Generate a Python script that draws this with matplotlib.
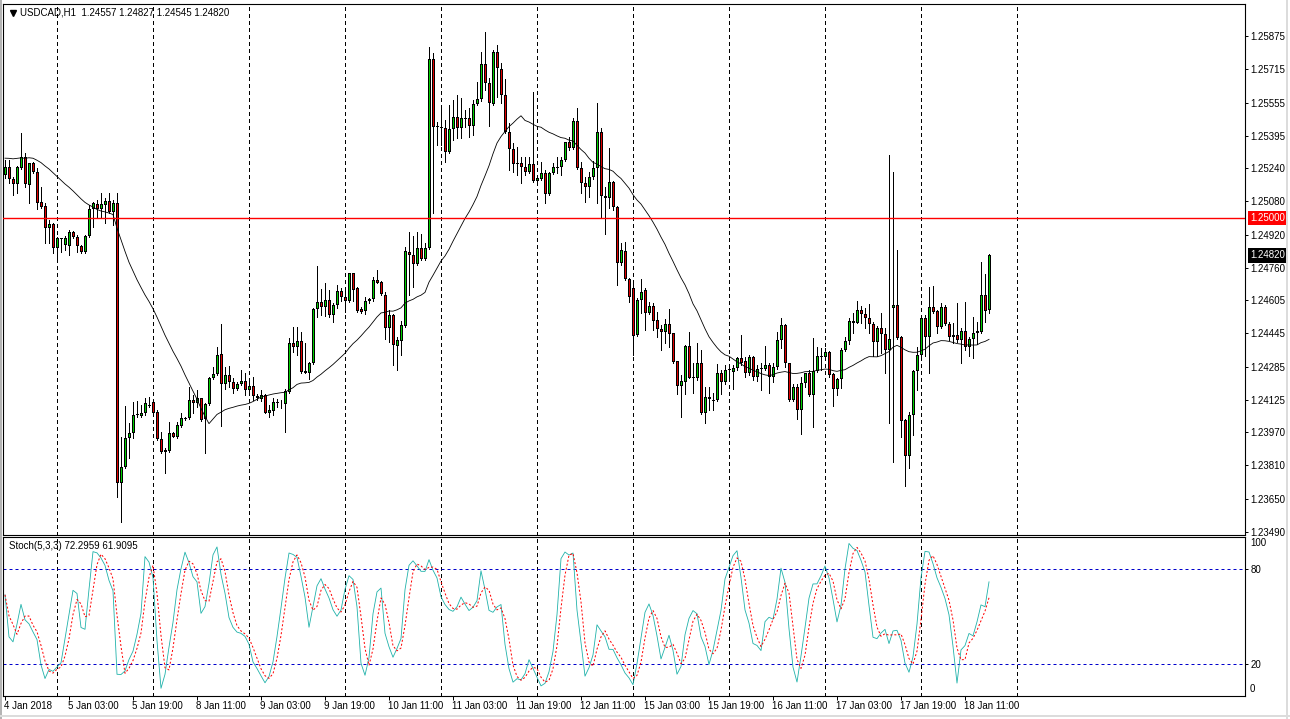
import numpy as np
import pandas as pd
import matplotlib
matplotlib.use("Agg")
import matplotlib.pyplot as plt
import matplotlib.transforms as mtransforms

# USDCAD H1 candles, 4 Jan 11:00 .. 18 Jan 17:00
opens = [
    1.25207, 1.25247, 1.25186, 1.25162, 1.25239, 1.25292, 1.25159, 1.25263, 1.25223, 1.25076,
    1.25058, 1.24950, 1.24970, 1.24857, 1.24902, 1.24870, 1.24865, 1.24931, 1.24910, 1.24867,
    1.24835, 1.24915, 1.25042, 1.25067, 1.25042, 1.25063, 1.25082, 1.25030, 1.25071, 1.23723,
    1.23803, 1.23940, 1.23964, 1.24052, 1.24049, 1.24060, 1.24100, 1.24116, 1.24065, 1.23935,
    1.23884, 1.23880, 1.23964, 1.23948, 1.24001, 1.24036, 1.24036, 1.24124, 1.24108, 1.24132,
    1.24031, 1.24105, 1.24229, 1.24249, 1.24344, 1.24200, 1.24245, 1.24212, 1.24176, 1.24201,
    1.24216, 1.24172, 1.24192, 1.24143, 1.24128, 1.24148, 1.24063, 1.24071, 1.24116, 1.24108,
    1.24105, 1.24164, 1.24397, 1.24381, 1.24408, 1.24265, 1.24256, 1.24301, 1.24561, 1.24597,
    1.24570, 1.24605, 1.24533, 1.24581, 1.24649, 1.24618, 1.24602, 1.24734, 1.24662, 1.24562,
    1.24554, 1.24601, 1.24610, 1.24702, 1.24693, 1.24629, 1.24469, 1.24533, 1.24386, 1.24408,
    1.24480, 1.24838, 1.24822, 1.24777, 1.24854, 1.24801, 1.24854, 1.25764, 1.25443, 1.25439,
    1.25432, 1.25319, 1.25427, 1.25485, 1.25432, 1.25480, 1.25480, 1.25443, 1.25547, 1.25571,
    1.25741, 1.25648, 1.25549, 1.25799, 1.25716, 1.25592, 1.25415, 1.25331, 1.25263, 1.25263,
    1.25244, 1.25223, 1.25258, 1.25179, 1.25186, 1.25215, 1.25115, 1.25215, 1.25243, 1.25247,
    1.25279, 1.25364, 1.25335, 1.25467, 1.25239, 1.25170, 1.25151, 1.25196, 1.25239, 1.25412,
    1.25106, 1.25095, 1.25175, 1.25051, 1.24782, 1.24843, 1.24705, 1.24662, 1.24437, 1.24605,
    1.24654, 1.24541, 1.24577, 1.24509, 1.24464, 1.24453, 1.24488, 1.24445, 1.24312, 1.24193,
    1.24212, 1.24384, 1.24237, 1.24229, 1.24301, 1.24063, 1.24137, 1.24120, 1.24126, 1.24253,
    1.24212, 1.24269, 1.24260, 1.24277, 1.24325, 1.24312, 1.24256, 1.24330, 1.24233, 1.24272,
    1.24272, 1.24293, 1.24233, 1.24282, 1.24413, 1.24485, 1.24301, 1.24124, 1.24185, 1.24076,
    1.24207, 1.24253, 1.24148, 1.24265, 1.24336, 1.24333, 1.24355, 1.24248, 1.24176, 1.24224,
    1.24365, 1.24408, 1.24504, 1.24496, 1.24557, 1.24538, 1.24517, 1.24488, 1.24402, 1.24469,
    1.24440, 1.24365, 1.24565, 1.24581, 1.24426, 1.24028, 1.23855, 1.24052, 1.24265, 1.24341,
    1.24517, 1.24429, 1.24570, 1.24552, 1.24477, 1.24570, 1.24488, 1.24437, 1.24437, 1.24413,
    1.24458, 1.24381, 1.24416, 1.24448, 1.24453, 1.24629, 1.24557,
]
highs = [
    1.25279, 1.25279, 1.25197, 1.25250, 1.25408, 1.25311, 1.25263, 1.25271, 1.25239, 1.25151,
    1.25071, 1.24990, 1.24975, 1.24910, 1.24905, 1.24913, 1.24942, 1.24937, 1.24918, 1.24870,
    1.24918, 1.25063, 1.25078, 1.25087, 1.25119, 1.25095, 1.25122, 1.25087, 1.25122, 1.23948,
    1.24095, 1.24012, 1.24116, 1.24119, 1.24100, 1.24132, 1.24140, 1.24119, 1.24076, 1.23972,
    1.23892, 1.24020, 1.23970, 1.24020, 1.24060, 1.24042, 1.24188, 1.24148, 1.24172, 1.24134,
    1.24110, 1.24235, 1.24284, 1.24381, 1.24490, 1.24284, 1.24288, 1.24229, 1.24212, 1.24269,
    1.24256, 1.24212, 1.24237, 1.24153, 1.24172, 1.24153, 1.24100, 1.24132, 1.24128, 1.24124,
    1.24176, 1.24424, 1.24474, 1.24474, 1.24453, 1.24397, 1.24309, 1.24565, 1.24769, 1.24657,
    1.24686, 1.24654, 1.24590, 1.24676, 1.24662, 1.24654, 1.24737, 1.24737, 1.24669, 1.24573,
    1.24621, 1.24614, 1.24718, 1.24750, 1.24697, 1.24645, 1.24557, 1.24537, 1.24429, 1.24505,
    1.24862, 1.24934, 1.24913, 1.24934, 1.24922, 1.24878, 1.25824, 1.25793, 1.25463, 1.25536,
    1.25472, 1.25544, 1.25568, 1.25592, 1.25576, 1.25520, 1.25528, 1.25568, 1.25656, 1.25800,
    1.25896, 1.25672, 1.25808, 1.25832, 1.25744, 1.25667, 1.25456, 1.25359, 1.25343, 1.25295,
    1.25295, 1.25295, 1.25608, 1.25199, 1.25271, 1.25231, 1.25223, 1.25263, 1.25295, 1.25295,
    1.25367, 1.25391, 1.25480, 1.25528, 1.25271, 1.25199, 1.25223, 1.25276, 1.25552, 1.25432,
    1.25151, 1.25335, 1.25179, 1.25058, 1.24878, 1.24886, 1.24710, 1.24702, 1.24614, 1.24705,
    1.24662, 1.24597, 1.24590, 1.24549, 1.24485, 1.24513, 1.24561, 1.24448, 1.24313, 1.24245,
    1.24389, 1.24453, 1.24301, 1.24397, 1.24365, 1.24188, 1.24188, 1.24156, 1.24297, 1.24269,
    1.24293, 1.24282, 1.24293, 1.24333, 1.24437, 1.24333, 1.24341, 1.24336, 1.24293, 1.24301,
    1.24384, 1.24304, 1.24301, 1.24453, 1.24517, 1.24488, 1.24304, 1.24201, 1.24201, 1.24237,
    1.24256, 1.24269, 1.24421, 1.24381, 1.24373, 1.24373, 1.24361, 1.24253, 1.24229, 1.24373,
    1.24429, 1.24517, 1.24544, 1.24601, 1.24577, 1.24565, 1.24586, 1.24501, 1.24480, 1.24544,
    1.24469, 1.25303, 1.25223, 1.24846, 1.24432, 1.24031, 1.24068, 1.24269, 1.24381, 1.24528,
    1.24533, 1.24669, 1.24673, 1.24557, 1.24590, 1.24581, 1.24501, 1.24496, 1.24590, 1.24469,
    1.24597, 1.24426, 1.24525, 1.24501, 1.24790, 1.24729, 1.24827,
]
lows = [
    1.25191, 1.25168, 1.25111, 1.25122, 1.25235, 1.25151, 1.25074, 1.25215, 1.25042, 1.25047,
    1.24878, 1.24878, 1.24833, 1.24806, 1.24838, 1.24846, 1.24822, 1.24904, 1.24838, 1.24832,
    1.24832, 1.24910, 1.24955, 1.25006, 1.24999, 1.24975, 1.25023, 1.24966, 1.23659, 1.23539,
    1.23796, 1.23844, 1.23940, 1.24044, 1.24044, 1.24052, 1.24092, 1.24057, 1.23930, 1.23868,
    1.23771, 1.23875, 1.23946, 1.23940, 1.23997, 1.24028, 1.24033, 1.24060, 1.24092, 1.24023,
    1.23868, 1.24100, 1.24224, 1.24245, 1.23999, 1.24176, 1.24188, 1.24156, 1.24172, 1.24196,
    1.24148, 1.24164, 1.24124, 1.24124, 1.24121, 1.24060, 1.24044, 1.24052, 1.24092, 1.24086,
    1.23972, 1.24160, 1.24357, 1.24341, 1.24256, 1.24254, 1.24224, 1.24297, 1.24522, 1.24533,
    1.24528, 1.24522, 1.24501, 1.24565, 1.24602, 1.24549, 1.24597, 1.24602, 1.24549, 1.24541,
    1.24538, 1.24592, 1.24602, 1.24686, 1.24629, 1.24416, 1.24405, 1.24293, 1.24269, 1.24341,
    1.24477, 1.24629, 1.24669, 1.24774, 1.24798, 1.24798, 1.24850, 1.25023, 1.25351, 1.25351,
    1.25271, 1.25315, 1.25375, 1.25384, 1.25384, 1.25439, 1.25391, 1.25399, 1.25544, 1.25564,
    1.25616, 1.25443, 1.25544, 1.25584, 1.25552, 1.25410, 1.25231, 1.25223, 1.25207, 1.25167,
    1.25207, 1.25215, 1.25175, 1.25167, 1.25183, 1.25074, 1.25111, 1.25212, 1.25215, 1.25207,
    1.25276, 1.25327, 1.25331, 1.25236, 1.25122, 1.25078, 1.25100, 1.25186, 1.25074, 1.24999,
    1.24923, 1.25047, 1.25038, 1.24678, 1.24774, 1.24702, 1.24597, 1.24341, 1.24432, 1.24544,
    1.24461, 1.24538, 1.24461, 1.24429, 1.24365, 1.24397, 1.24381, 1.24304, 1.24153, 1.24041,
    1.24153, 1.24229, 1.24156, 1.24220, 1.24057, 1.24015, 1.24076, 1.24076, 1.24118, 1.24153,
    1.24201, 1.24220, 1.24176, 1.24269, 1.24293, 1.24237, 1.24245, 1.24220, 1.24217, 1.24172,
    1.24269, 1.24159, 1.24212, 1.24272, 1.24373, 1.24284, 1.24121, 1.24121, 1.24031, 1.23961,
    1.24188, 1.24143, 1.23993, 1.24260, 1.24269, 1.24317, 1.24233, 1.24095, 1.24148, 1.24181,
    1.24360, 1.24394, 1.24448, 1.24493, 1.24493, 1.24469, 1.24445, 1.24336, 1.24336, 1.24349,
    1.24253, 1.24015, 1.23827, 1.24416, 1.23948, 1.23710, 1.23796, 1.23956, 1.24172, 1.24317,
    1.24336, 1.24256, 1.24544, 1.24448, 1.24469, 1.24485, 1.24413, 1.24400, 1.24405, 1.24304,
    1.24365, 1.24336, 1.24325, 1.24394, 1.24448, 1.24501, 1.24545,
]
closes = [
    1.25247, 1.25186, 1.25162, 1.25244, 1.25292, 1.25162, 1.25263, 1.25223, 1.25071, 1.25054,
    1.24950, 1.24970, 1.24854, 1.24902, 1.24901, 1.24902, 1.24931, 1.24910, 1.24867, 1.24835,
    1.24915, 1.25042, 1.25071, 1.25042, 1.25067, 1.25082, 1.25030, 1.25071, 1.23723, 1.23803,
    1.23940, 1.23964, 1.24052, 1.24055, 1.24060, 1.24108, 1.24095, 1.24060, 1.23935, 1.23875,
    1.23875, 1.23964, 1.23948, 1.24004, 1.24036, 1.24031, 1.24124, 1.24111, 1.24135, 1.24028,
    1.24105, 1.24229, 1.24249, 1.24341, 1.24200, 1.24245, 1.24212, 1.24176, 1.24201, 1.24216,
    1.24172, 1.24192, 1.24143, 1.24132, 1.24148, 1.24063, 1.24076, 1.24116, 1.24108, 1.24110,
    1.24169, 1.24397, 1.24381, 1.24408, 1.24260, 1.24256, 1.24301, 1.24561, 1.24597, 1.24570,
    1.24605, 1.24533, 1.24581, 1.24649, 1.24618, 1.24602, 1.24734, 1.24654, 1.24554, 1.24549,
    1.24601, 1.24610, 1.24702, 1.24689, 1.24633, 1.24469, 1.24533, 1.24389, 1.24413, 1.24485,
    1.24843, 1.24822, 1.24777, 1.24854, 1.24801, 1.24854, 1.25764, 1.25439, 1.25436, 1.25432,
    1.25319, 1.25427, 1.25485, 1.25432, 1.25480, 1.25476, 1.25443, 1.25547, 1.25571, 1.25741,
    1.25648, 1.25552, 1.25799, 1.25720, 1.25592, 1.25415, 1.25331, 1.25260, 1.25260, 1.25244,
    1.25223, 1.25258, 1.25179, 1.25191, 1.25215, 1.25115, 1.25215, 1.25247, 1.25248, 1.25279,
    1.25364, 1.25335, 1.25467, 1.25239, 1.25167, 1.25148, 1.25196, 1.25239, 1.25412, 1.25106,
    1.25096, 1.25175, 1.25051, 1.24782, 1.24846, 1.24705, 1.24618, 1.24432, 1.24605, 1.24645,
    1.24541, 1.24577, 1.24506, 1.24464, 1.24453, 1.24488, 1.24442, 1.24309, 1.24193, 1.24216,
    1.24384, 1.24232, 1.24229, 1.24301, 1.24063, 1.24137, 1.24128, 1.24126, 1.24253, 1.24212,
    1.24269, 1.24272, 1.24277, 1.24328, 1.24304, 1.24253, 1.24330, 1.24233, 1.24272, 1.24277,
    1.24293, 1.24233, 1.24284, 1.24413, 1.24485, 1.24301, 1.24124, 1.24185, 1.24076, 1.24207,
    1.24253, 1.24148, 1.24265, 1.24336, 1.24333, 1.24354, 1.24245, 1.24176, 1.24224, 1.24365,
    1.24408, 1.24504, 1.24496, 1.24557, 1.24538, 1.24517, 1.24488, 1.24402, 1.24469, 1.24440,
    1.24365, 1.24416, 1.24581, 1.24424, 1.24025, 1.23855, 1.24052, 1.24265, 1.24341, 1.24517,
    1.24429, 1.24570, 1.24549, 1.24477, 1.24570, 1.24488, 1.24426, 1.24426, 1.24413, 1.24458,
    1.24381, 1.24416, 1.24448, 1.24458, 1.24629, 1.24554, 1.24820,
]
# closes of the 23 hours before the first visible bar (only used to seed the MA)
ma_seed = [
    1.25202, 1.25221, 1.25192, 1.25231, 1.25212, 1.25202, 1.25279, 1.25303, 1.25327, 1.25337,
    1.25318, 1.25289, 1.25327, 1.25346, 1.25327, 1.25308, 1.25332, 1.25322, 1.25298, 1.25327,
    1.25337, 1.25313, 1.25318,
]

price_ticks = [1.25875, 1.25715, 1.25555, 1.25395, 1.25240, 1.25080, 1.24920, 1.24760,
               1.24605, 1.24445, 1.24285, 1.24125, 1.23970, 1.23810, 1.23650, 1.23490]
time_labels = ["4 Jan 2018", "5 Jan 03:00", "5 Jan 19:00", "8 Jan 11:00", "9 Jan 03:00",
               "9 Jan 19:00", "10 Jan 11:00", "11 Jan 03:00", "11 Jan 19:00", "12 Jan 11:00",
               "15 Jan 03:00", "15 Jan 19:00", "16 Jan 11:00", "17 Jan 03:00", "17 Jan 19:00",
               "18 Jan 11:00"]
day_starts = [13, 37, 61, 85, 109, 133, 157, 181, 205, 229, 253]
level_price = 1.25000
last_price = 1.24820

W, H = 1290, 719
BULL = "#00D000"
BEAR = "#E00000"
plt.rcParams["font.family"] = ["Liberation Sans", "DejaVu Sans"]
plt.rcParams["font.size"] = 7

o = np.array(opens)
h = np.array(highs)
l = np.array(lows)
c = np.array(closes)
x = np.arange(len(c))

# moving average (24) and stochastic (5,3,3) from the candles
ma = pd.Series(ma_seed + closes).rolling(24).mean().to_numpy()[len(ma_seed):]
ll = pd.Series(lows).rolling(5, min_periods=1).min()
hh = pd.Series(highs).rolling(5, min_periods=1).max()
num = (pd.Series(closes) - ll).rolling(3, min_periods=1).sum()
den = (hh - ll).rolling(3, min_periods=1).sum()
k_line = (100 * num / den).to_numpy()
d_line = pd.Series(k_line).rolling(3, min_periods=1).mean().to_numpy()

fig = plt.figure(figsize=(W / 100, H / 100), dpi=100)
ax = fig.add_axes([3 / W, (H - 535) / H, 1242 / W, 531 / H])
ax2 = fig.add_axes([3 / W, (H - 696) / H, 1242 / W, 159 / H])

for a in (ax, ax2):
    a.set_xlim(-0.5, 310)
    for s in a.spines.values():
        s.set_linewidth(0.8)
        s.set_color("black")
    for g in day_starts:
        a.axvline(g, color="black", lw=0.72, ls=(0, (4, 3)), zorder=1, antialiased=False)
    a.yaxis.tick_right()
    a.tick_params(axis="y", direction="out", length=2.5, width=0.72, pad=1.2, labelsize=7)

ax.set_ylim(1.23475, 1.26030)
px = (1.26030 - 1.23475) / 531  # price span of one pixel

# candles: black wick, 3 px black body, 1 px coloured core
ax.vlines(x, l, h, color="black", lw=0.72, zorder=3, antialiased=False)
body_lo = np.minimum(o, c)
body_h = np.maximum(np.abs(c - o), px * 0.6)
ax.bar(x, body_h, bottom=body_lo, width=0.75, color="black", lw=0,
       zorder=4, antialiased=False)
core_h = np.abs(c - o) - 2 * px
core = core_h > 0
ax.bar(x[core], core_h[core], bottom=body_lo[core] + px, width=0.25,
       color=np.where(c >= o, BULL, BEAR)[core], lw=0, zorder=5, antialiased=False)
ax.plot(x, ma, color="black", lw=0.6, zorder=6)
ax.axhline(level_price, color="red", lw=1.0, zorder=7)

ax.set_yticks(price_ticks)
ax.set_yticklabels([f"{p:.5f}" for p in price_ticks])
ax.tick_params(axis="x", bottom=False, labelbottom=False)

trans = mtransforms.blended_transform_factory(ax.transAxes, ax.transData)
ax.text(1.0040, level_price, f"{level_price:.5f}", transform=trans, ha="left", va="center",
        color="white", fontsize=7, clip_on=False, zorder=10,
        bbox=dict(boxstyle="square,pad=0.25", fc="red", ec="none"))
ax.text(1.0040, last_price, f"{last_price:.5f}", transform=trans, ha="left", va="center",
        color="white", fontsize=7, clip_on=False, zorder=10,
        bbox=dict(boxstyle="square,pad=0.25", fc="black", ec="none"))

fig.text(20 / W, 1 - 12.5 / H, "USDCAD,H1  1.24557 1.24827 1.24545 1.24820",
         ha="left", va="center", fontsize=7)
ax.plot([12.5 / W], [1 - 12.5 / H], marker="v", ms=4, color="black",
        transform=fig.transFigure, clip_on=False)

# stochastic panel
ax2.set_ylim(0, 100)
ax2.axhline(80, color="#0000CC", lw=0.72, ls=(0, (3, 3)), zorder=2)
ax2.axhline(20, color="#0000CC", lw=0.72, ls=(0, (3, 3)), zorder=2)
ax2.plot(x, k_line, color="#20B2AA", lw=0.6, zorder=4)
ax2.plot(x, d_line, color="red", lw=0.72, ls=(0, (2, 2)), zorder=5)
ax2.set_yticks([20, 80])
ax2.set_yticklabels(["20", "80"])
trans2 = mtransforms.blended_transform_factory(ax2.transAxes, ax2.transData)
ax2.text(1.0040, 96.5, "100", transform=trans2, ha="left", va="center", fontsize=7)
ax2.text(1.0040, 4.2, "0", transform=trans2, ha="left", va="center", fontsize=7)
ax2.text(6 / 1242, 1 - 9 / 159, "Stoch(5,3,3) 72.2959 61.9095", transform=ax2.transAxes,
         ha="left", va="center", fontsize=7)

label_bars = list(range(0, 16 * len(time_labels), 16))
ax2.set_xticks(label_bars)
ax2.set_xticklabels([])
ax2.tick_params(axis="x", direction="out", length=3, width=0.72)
trans3 = mtransforms.blended_transform_factory(ax2.transData, ax2.transAxes)
for b, lab in zip(label_bars, time_labels):
    ax2.text(b - 0.25, -0.063, lab, transform=trans3, ha="left", va="center", fontsize=7)

# window frame
fig.add_artist(plt.Rectangle((0, 0), 2 / W, 1, transform=fig.transFigure, color="#b4b4b4", lw=0))
fig.add_artist(plt.Rectangle((1286 / W, 0), 2 / W, 1, transform=fig.transFigure, color="#dcdcdc", lw=0))
fig.add_artist(plt.Rectangle((0, 2 / H), 1, 2 / H, transform=fig.transFigure, color="#dcdcdc", lw=0))

fig.savefig("out.png", dpi=100)
